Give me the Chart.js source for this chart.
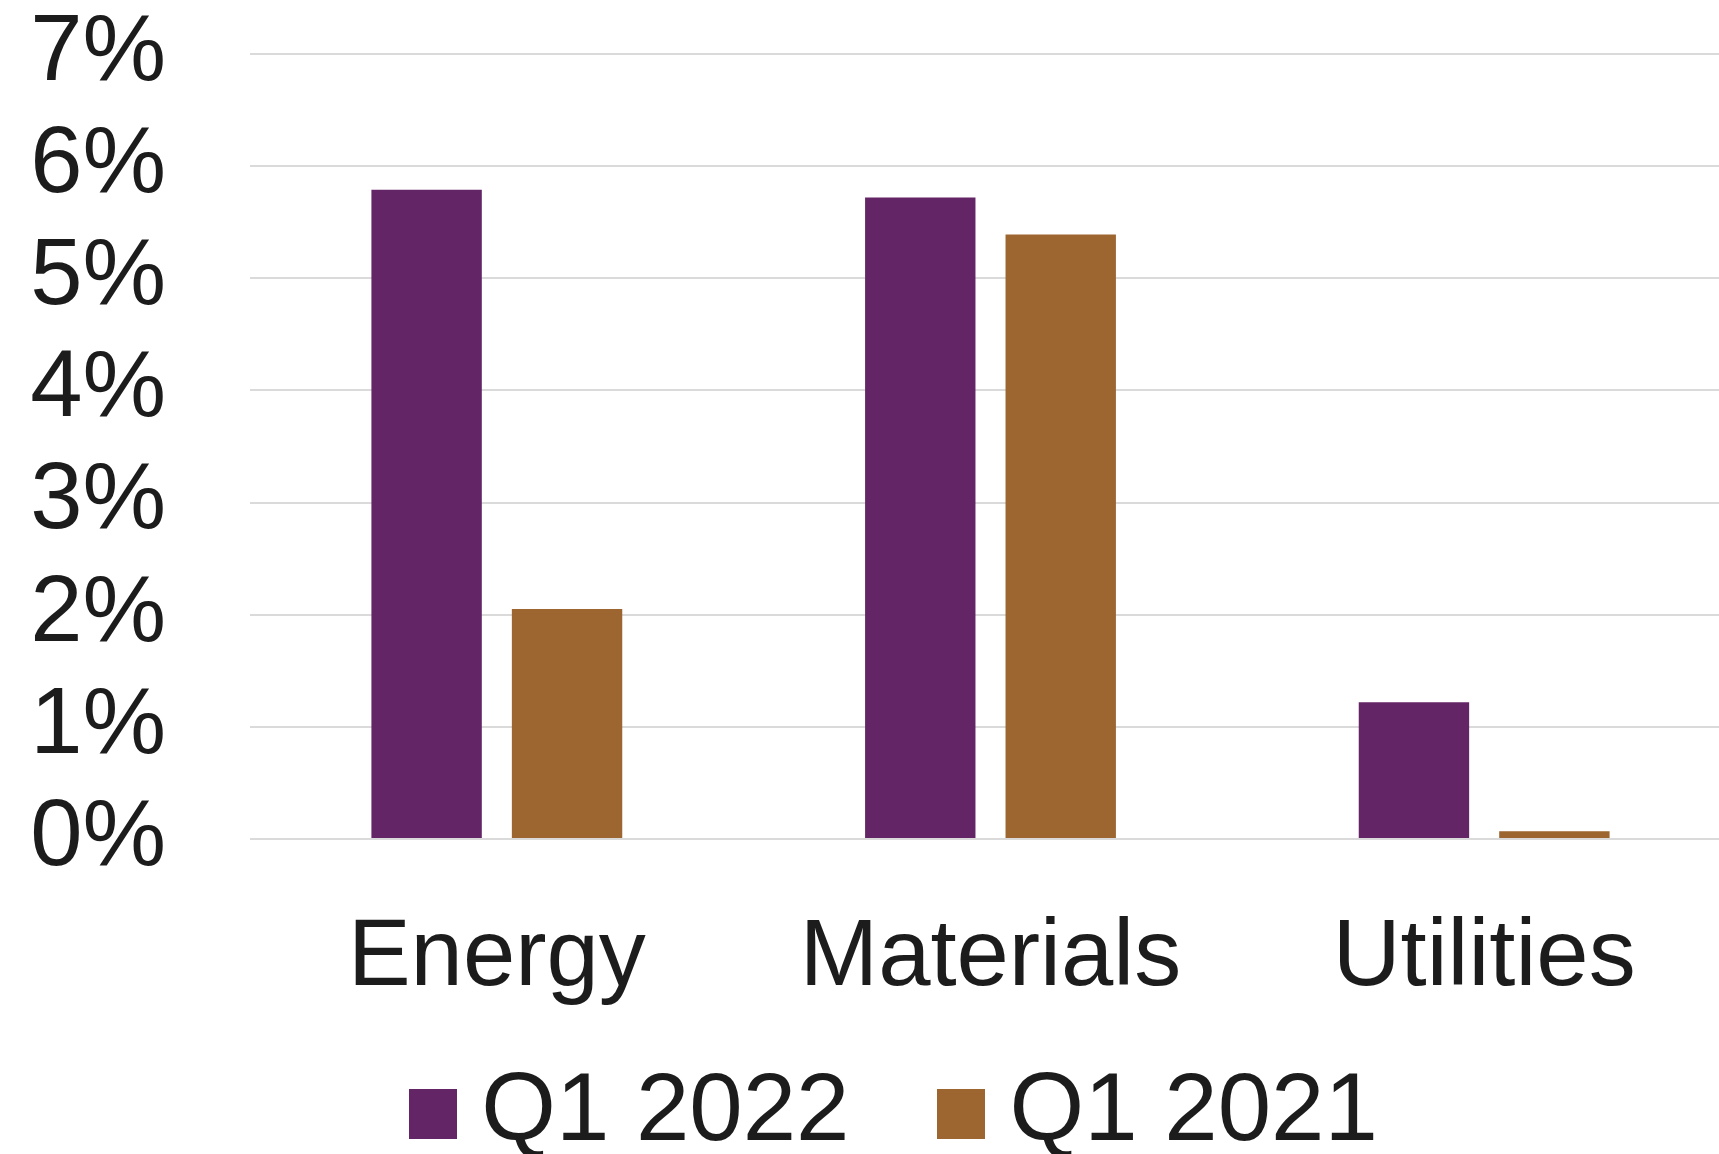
<!DOCTYPE html>
<html>
<head>
<meta charset="utf-8">
<script src="https://cdn.jsdelivr.net/npm/chart.js@4.4.1/dist/chart.umd.min.js"></script>
<style>
html, body { margin: 0; padding: 0; background: #fff; overflow: hidden; }
#wrap { position: relative; width: 1731px; height: 1154px; }
</style>
</head>
<body>
<div id="wrap"><canvas id="bar-canvas"></canvas></div>
<script>
// data
var sectors = ["Energy", "Materials", "Utilities"];
var q1_2022 = [5.79, 5.72, 1.22];
var q1_2021 = [2.05, 5.39, 0.07];
var seriesNames = ["Q1 2022", "Q1 2021"];
var yTicks = [0, 1, 2, 3, 4, 5, 6, 7];

var purple = "#632565";
var brown = "#9d652f";
var textColor = "#1c1c1c";

// square legend markers, drawn as point styles so the text sits close to them
function swatch(color) {
  var c = document.createElement("canvas");
  c.width = 48;
  c.height = 50;
  var g = c.getContext("2d");
  g.fillStyle = color;
  g.fillRect(0, 0, 48, 50);
  return c;
}
var swatches = [swatch(purple), swatch(brown)];

// let the tick labels spill out of their axis boxes instead of being clipped
var unclip = {
  id: "unclip",
  afterLayout: function (ch) {
    ch.scales.y.left = 0;
    ch.scales.x.bottom = ch.height;
  }
};

Chart.defaults.font.family = "'Liberation Sans', Arial, sans-serif";
Chart.defaults.color = textColor;

var ctx = document.getElementById("bar-canvas");
var chart = new Chart(ctx, {
  type: "bar",
  data: {
    labels: sectors,
    datasets: [
      { label: seriesNames[0], data: q1_2022, backgroundColor: purple },
      { label: seriesNames[1], data: q1_2021, backgroundColor: brown }
    ]
  },
  plugins: [unclip],
  options: {
    responsive: true,
    maintainAspectRatio: false,
    animation: false,
    datasets: { bar: { categoryPercentage: 0.569, barPercentage: 0.786 } },
    layout: { padding: { top: 54, left: 79, right: 0, bottom: -18 } },
    plugins: {
      tooltip: { enabled: false },
      legend: {
        position: "bottom",
        labels: {
          usePointStyle: true,
          pointStyleWidth: 1,
          padding: 111,
          color: textColor,
          font: { size: 96, lineHeight: 1 },
          generateLabels: function (ch) {
            var items = Chart.defaults.plugins.legend.labels.generateLabels(ch);
            items.forEach(function (it, i) {
              it.pointStyle = swatches[i];
              it.fontColor = textColor;
            });
            return items;
          }
        }
      }
    },
    scales: {
      x: {
        grid: { display: false },
        border: { display: false },
        ticks: { font: { size: 94, lineHeight: 1 }, padding: 65, maxRotation: 0, autoSkip: false },
        afterFit: function (s) {
          s.height = 116;
          s.paddingLeft = 0;
          s.paddingRight = 0;
        }
      },
      y: {
        min: 0,
        max: 7,
        afterBuildTicks: function (s) {
          s.ticks = yTicks.map(function (v) { return { value: v }; });
        },
        ticks: {
          padding: 84,
          font: { size: 94, lineHeight: 1 },
          callback: function (v) { return v + "%"; }
        },
        grid: { color: "#dadada", lineWidth: 2, drawTicks: false },
        border: { display: false },
        afterFit: function (s) {
          s.width = 250 - 79;
          s.paddingTop = 0;
          s.paddingBottom = 0;
        }
      }
    }
  }
});
</script>
</body>
</html>
